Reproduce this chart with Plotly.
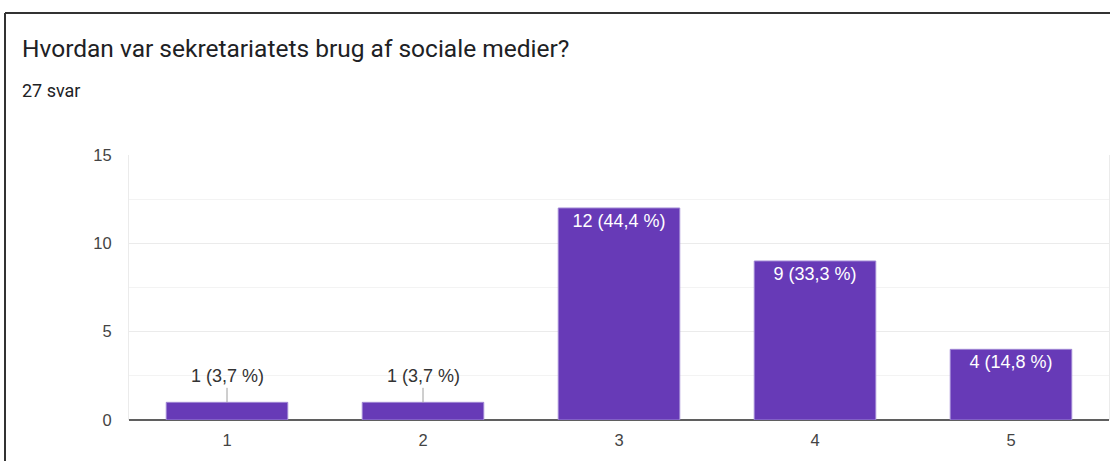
import plotly.graph_objects as go

# Survey responses: scale 1-5, answer counts
categories = ["1", "2", "3", "4", "5"]
counts = [1, 1, 12, 9, 4]
y_ticks = [0, 5, 10, 15]

title_text = "Hvordan var sekretariatets brug af sociale medier?"
subtitle_text = "27 svar"

total = sum(counts)
labels = [f"{c} ({c / total * 100:.1f} %)".replace(".", ",") for c in counts]

W, H = 1110, 461
ML, MR, MT, MB = 129, 1, 155, 41
PW, PH = W - ML - MR, H - MT - MB


def px_x(px):
    return (px - ML) / PW


def px_y(py):
    return (H - MB - py) / PH


BAR = "#673ab7"
SANS = "Liberation Sans, Arial, sans-serif"
TICK_FONT = dict(family=SANS, size=16.5, color="#444444")

inside = [c >= 3 for c in counts]

fig = go.Figure()
fig.add_trace(go.Bar(
    x=categories,
    y=counts,
    marker=dict(color=BAR, line=dict(color="#9f86d4", width=1)),
    text=[lab if ins else "" for lab, ins in zip(labels, inside)],
    textposition="inside",
    insidetextanchor="end",
    textangle=0,
    textfont=dict(family=SANS, size=18, color="#ffffff"),
    hoverinfo="skip",
))

annotations = []
# Small bars: label above with a short leader line
for i, (c, lab, ins) in enumerate(zip(counts, labels, inside)):
    if not ins:
        annotations.append(dict(
            x=i, y=c, xref="x", yref="y", text=lab,
            showarrow=True, arrowhead=0, arrowwidth=1, arrowcolor="#9e9e9e",
            ax=0, ay=-26, standoff=0,
            font=dict(family=SANS, size=18, color="#333333"),
        ))

annotations.append(dict(
    x=px_x(20), y=px_y(48), xref="paper", yref="paper",
    xanchor="left", yanchor="middle", showarrow=False, text=title_text,
    font=dict(family="Roboto, sans-serif", size=24.5, color="#202124"),
))
annotations.append(dict(
    x=px_x(20), y=px_y(90), xref="paper", yref="paper",
    xanchor="left", yanchor="middle", showarrow=False, text=subtitle_text,
    font=dict(family="Roboto, sans-serif", size=18, color="#202124"),
))

shapes = [
    dict(type="line", xref="paper", yref="paper", x0=px_x(5), x1=px_x(W + 5),
         y0=px_y(13), y1=px_y(13), line=dict(color="#333333", width=2)),
    dict(type="line", xref="paper", yref="paper", x0=px_x(5), x1=px_x(5),
         y0=px_y(13), y1=px_y(H + 5), line=dict(color="#333333", width=2)),
]

fig.update_layout(
    width=W, height=H,
    margin=dict(l=ML, r=MR, t=MT, b=MB, pad=0),
    paper_bgcolor="white", plot_bgcolor="white",
    showlegend=False,
    bargap=0.38,
    annotations=annotations,
    shapes=shapes,
    uniformtext=dict(mode="show", minsize=15),
)
fig.update_xaxes(
    type="category", showgrid=False, ticks="", tickfont=TICK_FONT,
    ticklabelstandoff=8,
    showline=False, zeroline=False,
)
fig.update_yaxes(
    range=[0, 15], tickvals=y_ticks, tickfont=TICK_FONT, ticks="",
    ticklabelstandoff=13,
    showgrid=True, gridcolor="#ebebeb", gridwidth=1,
    minor=dict(dtick=2.5, showgrid=True, gridcolor="#f3f3f3", gridwidth=1),
    zeroline=True, zerolinecolor="#5f5f5f", zerolinewidth=2,
    showline=True, linecolor="#ebebeb", linewidth=1, mirror=True,
)

fig.write_html("out.html", config={"displayModeBar": False})
